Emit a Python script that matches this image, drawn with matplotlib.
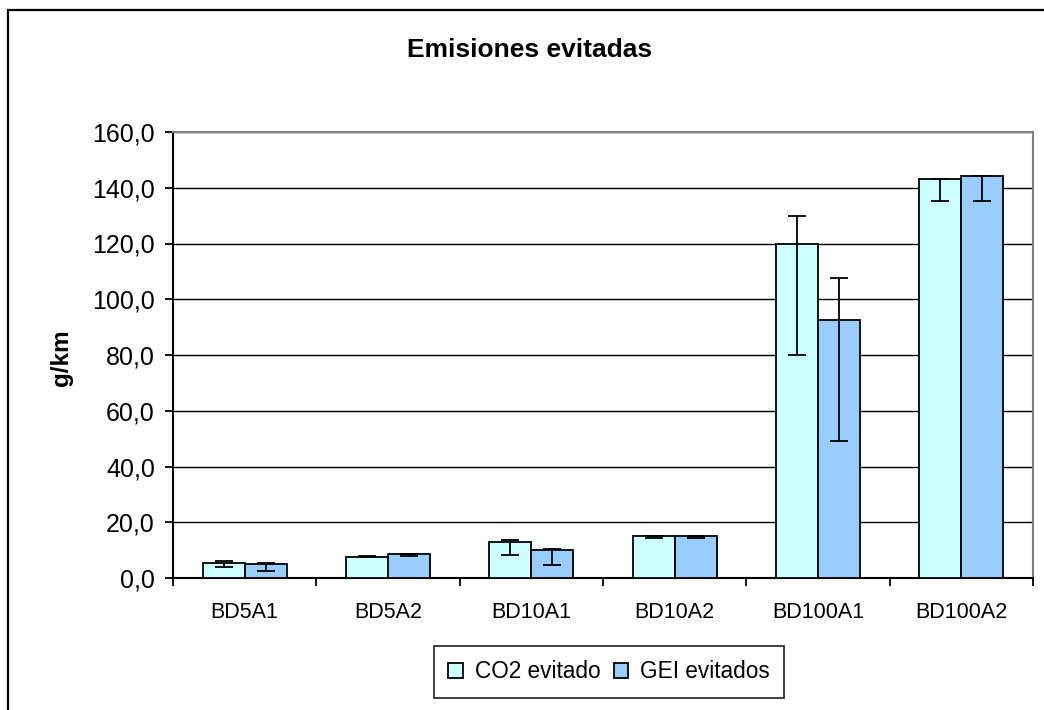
import matplotlib.pyplot as plt
from matplotlib.patches import Rectangle
import numpy as np

# Data
categories = ['BD5A1', 'BD5A2', 'BD10A1', 'BD10A2', 'BD100A1', 'BD100A2']
co2 = [5.5, 7.6, 12.8, 15.0, 120.0, 143.2]
gei = [4.9, 8.5, 10.1, 15.0, 92.4, 144.3]
co2_err_low = [1.5, 0.0, 4.4, 0.7, 40.0, 7.8]
co2_err_up = [0.7, 0.3, 0.8, 0.0, 10.0, 0.0]
gei_err_low = [2.4, 0.6, 5.4, 0.7, 43.1, 8.9]
gei_err_up = [0.6, 0.0, 0.4, 0.0, 15.2, 0.0]
yticks = [0, 20, 40, 60, 80, 100, 120, 140, 160]

plt.rcParams['font.family'] = ['Liberation Sans', 'DejaVu Sans']

W, H = 1044, 710
fig = plt.figure(figsize=(W / 100, H / 100), dpi=100)
ax = fig.add_axes([173 / W, 1 - 578 / H, (1033 - 173) / W, (578 - 132) / H])

x = np.arange(len(categories))
w = 0.293
err_kw = dict(ecolor='black', elinewidth=1.3, capsize=6.5, capthick=1.3)
ax.bar(x - w / 2, co2, w, color='#CCFFFF', edgecolor='black', linewidth=1.3,
       yerr=[co2_err_low, co2_err_up], error_kw=err_kw, label='CO2 evitado', zorder=3)
ax.bar(x + w / 2, gei, w, color='#99CCFF', edgecolor='black', linewidth=1.3,
       yerr=[gei_err_low, gei_err_up], error_kw=err_kw, label='GEI evitados', zorder=3)

ax.set_ylim(0, 160)
ax.set_xlim(-0.5, len(categories) - 0.5)
ax.set_yticks(yticks)
ax.set_yticklabels([f'{v:.1f}'.replace('.', ',') for v in yticks], fontsize=18)
ax.yaxis.grid(True, color='black', linewidth=1.0, zorder=0)
ax.set_axisbelow(True)

ax.set_xticks(x)
ax.set_xticklabels(categories, fontsize=15.5)
ax.set_xticks(np.arange(-0.5, len(categories)), minor=True)
ax.tick_params(axis='x', which='major', length=0, pad=17)
ax.tick_params(axis='x', which='minor', length=6, width=1.3, direction='out')
ax.tick_params(axis='y', length=6, width=1.3, direction='out', pad=7)

for s in ['left', 'bottom']:
    ax.spines[s].set_color('black')
    ax.spines[s].set_linewidth(1.5)
for s in ['top', 'right']:
    ax.spines[s].set_color('#808080')
    ax.spines[s].set_linewidth(1.5)

fig.text(530 / W, 1 - 50 / H, 'Emisiones evitadas', fontsize=19, fontweight='bold',
         ha='center', va='center')
fig.text(61 / W, 1 - 358 / H, 'g/km', fontsize=17.5, fontweight='bold',
         rotation=90, ha='center', va='center')

leg = fig.legend(loc='center', bbox_to_anchor=(609 / W, 1 - 672 / H), ncol=2,
                 fontsize=16.3, frameon=True, fancybox=False, handlelength=0.65,
                 handleheight=0.65, handletextpad=0.5, columnspacing=0.6,
                 borderpad=0.65, borderaxespad=0)
leg.get_frame().set_edgecolor('black')
leg.get_frame().set_linewidth(1.3)

# outer chart frame (continues past the right and bottom edges)
fig.patches.append(Rectangle((8 / W, -0.1), 1.2, 1.1 - 10 / H, transform=fig.transFigure,
                             fill=False, edgecolor='black', linewidth=1.6))

fig.savefig('out.png', dpi=100)
